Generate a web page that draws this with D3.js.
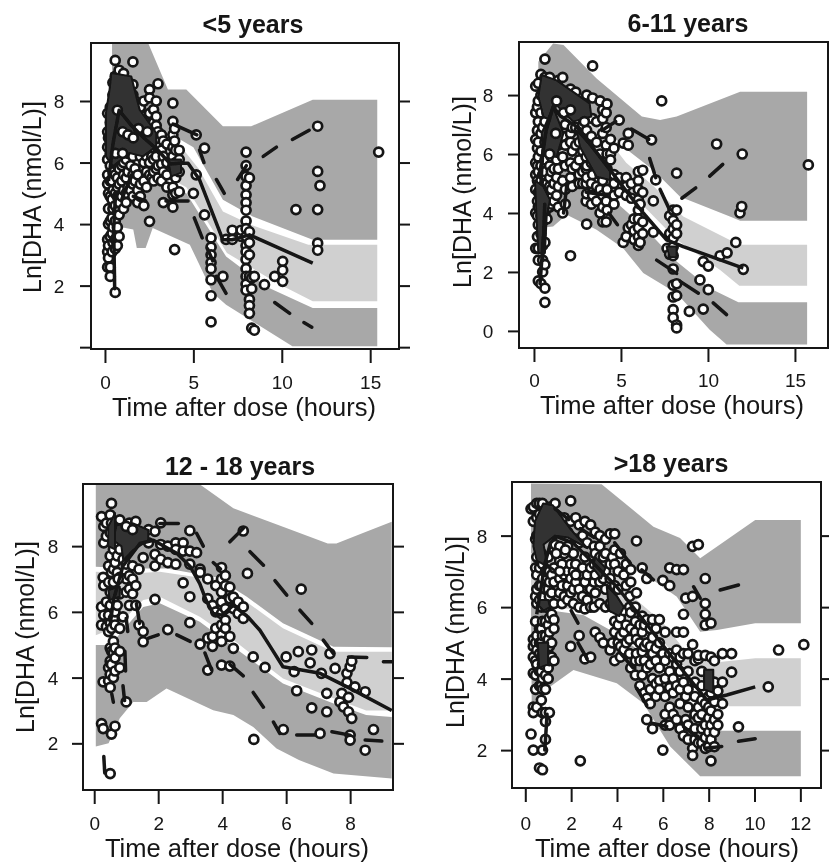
<!DOCTYPE html>
<html>
<head>
<meta charset="utf-8">
<title>Ln[DHA] by age group</title>
<script src="https://cdn.jsdelivr.net/npm/d3@7"></script>
<style>
	html, body { margin: 0; background: #fff; }
	svg { display: block; font-family: "Liberation Sans", Arial, sans-serif; }
</style>
</head>
<body>
<svg width="829" height="863"></svg>
<script>
// ----- <5 years -----
// observed points, one entry per time: [hours, [ln concentrations]]
const obs1 = [
	[0.15, [7.6, 7.0, 6.5, 6.1, 5.6, 5.3, 3.5, 3.1, 2.6]],
	[0.2, [6.8, 5.0, 4.5, 4.0, 3.3, 2.9]],
	[0.3, [7.8, 7.3, 6.8, 6.3, 5.9, 5.4, 4.9, 4.1, 3.6, 2.6, 2.3]],
	[0.4, [7.0, 6.5, 5.4, 4.8, 4.2, 3.7, 3.1]],
	[0.45, [8.6, 8.2, 7.5, 6.9, 6.2, 5.7, 5.1, 4.5, 3.9, 3.4]],
	[0.58, [9.32, 8.8, 8.3, 7.8, 7.2, 6.6, 6.1, 5.6, 5.0, 4.6, 4.1, 3.5, 3.2, 1.78]],
	[0.7, [7.5, 6.7, 5.9, 5.5, 5.2, 4.9, 4.4, 3.9, 3.3]],
	[0.8, [9.0, 8.4, 7.9, 7.4, 6.9, 6.2, 5.8, 5.3, 4.7, 4.3, 3.6]],
	[0.95, [6.5, 5.9, 5.4, 4.9]],
	[1.05, [8.9, 8.5, 7.7, 7.1, 6.6, 6.0, 5.6, 5.1, 4.5]],
	[1.2, [7.5, 6.1, 5.5, 5.0, 4.7]],
	[1.3, [7.2, 6.8, 6.3, 5.7, 5.2]],
	[1.45, [7.4, 6.5, 5.9, 5.1]],
	[1.58, [9.27, 8.53, 8.2, 7.1, 6.7, 6.2, 5.6, 5.3, 4.9]],
	[1.7, [8.0, 7.6, 5.8, 5.4]],
	[1.85, [7.4, 6.9, 6.4, 5.6, 5.1, 4.7]],
	[2.0, [7.8, 7.2, 6.2, 5.3, 4.9]],
	[2.2, [8.0, 7.5, 6.6, 6.0, 5.4, 4.6]],
	[2.35, [7.3, 6.9, 6.2, 5.7, 5.2]],
	[2.52, [8.37, 8.1, 7.6, 7.2, 6.8, 6.4, 6.0, 5.6, 4.09]],
	[2.65, [7.0, 6.6, 6.2, 5.5]],
	[2.75, [7.72, 7.3, 6.9, 6.1, 5.7, 5.4]],
	[2.9, [8.0, 7.5, 7.2, 6.7, 6.2, 5.8]],
	[3.0, [8.56, 7.0, 6.5, 5.9, 5.5]],
	[3.2, [6.9, 6.4, 5.95, 5.4]],
	[3.3, [6.7, 6.2, 5.7, 4.7]],
	[3.5, [6.6, 6.0, 5.6, 5.2]],
	[3.84, [7.93, 7.34, 6.9, 6.5, 6.2, 5.9, 5.2, 4.95, 4.55]],
	[3.94, [7.1, 6.7, 3.17]],
	[4.0, [6.4, 6.0, 5.5, 5.0]],
	[4.2, [6.4, 6.1, 5.7, 5.05]],
	[5.0, [5.0]],
	[5.16, [6.9, 5.6]],
	[5.63, [6.47, 4.3]],
	[6.0, [3.55, 3.25, 3.0, 2.75, 2.55, 2.19, 1.67, 0.82]],
	[6.67, [2.3]],
	[6.85, [3.5]],
	[7.2, [3.8, 3.5]],
	[7.7, [3.6, 3.8]],
	[7.98, [6.34, 5.9, 5.55, 5.25, 4.95, 4.7, 4.45, 4.1, 3.85, 3.6, 3.3, 3.1, 2.85, 2.55, 2.3, 2.05, 1.85]],
	[8.17, [5.5, 3.75, 3.4, 3.0, 2.3, 1.55, 1.35, 1.1]],
	[8.3, [0.62, 2.25, 1.9]],
	[8.45, [0.55, 2.3]],
	[9.02, [2.03]],
	[9.6, [2.3]],
	[10.05, [2.79, 2.5, 2.14]],
	[10.8, [4.47]],
	[12.03, [7.18, 5.71, 4.47, 3.38, 3.15]],
	[12.16, [5.25]],
	[15.48, [6.34]]
];
const top1 = [[0.7, 7.7], [1.0, 7.0], [1.3, 6.9], [1.6, 6.8], [0.6, 6.3], [1.0, 6.3], [1.9, 7.1], [2.4, 7.0]];
const dense1 = [
	[[0.36, 8.91], [1.49, 8.8], [1.96, 7.72], [2.9, 6.96], [2.9, 6.53], [2.15, 6.2], [1.39, 6.31], [0.45, 5.88], [0.05, 6.2], [0.05, 7.6], [0.26, 8.37]],
	[[3.56, 6.1], [4.3, 6.1], [4.3, 5.66], [3.74, 5.55]]
];
const upperBand1 = [[0.4, 9.9], [2.43, 9.9], [3.56, 8.37], [4.6, 8.37], [6.67, 7.18], [8.27, 7.18], [11.75, 8.04], [15.4, 8.04], [15.4, 3.49], [11.75, 3.49], [8.36, 4.25], [6.67, 4.79], [5, 6.5], [3.5, 7], [0.4, 7]];
const midBand1 = [[0.4, 7], [3.6, 7], [4.6, 6.3], [5.3, 5.8], [6.67, 4.41], [8.36, 3.95], [11.5, 3.33], [15.4, 3.33], [15.4, 1.49], [11.75, 1.49], [9.75, 2.08], [6.9, 3.06], [4.6, 5.2], [2, 6], [0.4, 6]];
const lowerBand1 = [[0.4, 6], [2, 5.9], [4.6, 5.0], [6.85, 2.95], [9.1, 1.97], [11.75, 1.27], [15.4, 1.27], [15.4, 0.03], [10.6, 0.03], [6.85, 1.38], [6.1, 1.76], [4.8, 3.33], [2.7, 3.87], [2.3, 3.22], [1.8, 3.22], [1.6, 3.82], [0.65, 3.93], [0.4, 3.0]];
const median1 = [[0.2, 5.4], [0.45, 6.6], [0.8, 7.7], [1.5, 7.2], [2.2, 6.8], [3.0, 6.4], [3.7, 5.95], [4.2, 5.98], [4.7, 5.98], [5.35, 5.44], [6.67, 3.49], [7.2, 3.49], [8.17, 3.65], [11.75, 2.73]];
const dashes1 = [
	[[3.85, 7.25], [5.2, 6.9]], [[5.35, 6.4], [5.6, 6.0]], [[6.3, 5.45], [6.75, 5.0]], [[7.5, 5.45], [8.0, 5.9]],
	[[8.95, 6.2], [9.7, 6.5]], [[10.6, 6.75], [11.55, 7.05]],
	[[0.55, 1.9], [0.5, 3.6]], [[0.45, 3.4], [0.6, 5.0]], [[0.95, 4.8], [1.5, 5.6]], [[1.6, 4.9], [2.3, 4.75]],
	[[3.45, 4.75], [4.7, 4.75]], [[5.05, 4.2], [5.5, 3.55]], [[5.8, 3.2], [6.1, 2.8]], [[6.3, 2.3], [6.85, 1.75]],
	[[9.6, 1.45], [10.45, 1.1]], [[11.25, 0.8], [11.7, 0.65]]
];

// ----- 6-11 years -----
const obs2 = [
	[0.1, [8.3, 7.4, 6.5, 5.7, 5.3, 4.8, 4.0, 2.8]],
	[0.2, [7.6, 6.8, 6.2, 5.6, 5.1, 4.4, 3.9, 3.2]],
	[0.25, [8.4, 7.8, 7.1, 6.4, 5.9, 5.4, 4.7, 4.2, 3.6, 2.8, 2.4, 1.7]],
	[0.4, [8.7, 8.0, 7.4, 6.7, 6.1, 5.6, 5.1, 4.5, 3.9, 3.3, 1.6]],
	[0.5, [6.9, 5.3, 4.9, 4.3, 3.7, 2.9, 2.4, 2.0]],
	[0.63, [9.22, 8.6, 7.1, 6.4, 5.8, 5.4, 4.8, 4.0, 3.0, 2.25, 1.45, 0.97]],
	[0.75, [7.4, 6.1, 5.0, 4.6, 4.3, 3.8]],
	[0.9, [8.6, 6.8, 6.2, 5.6, 5.2, 4.9, 4.5, 4.2]],
	[1.0, [6.5, 5.9, 5.4, 4.8, 4.3]],
	[1.15, [6.7, 6.0, 5.5, 5.0, 4.4]],
	[1.3, [6.5, 5.8, 5.2, 4.6]],
	[1.4, [8.5, 6.3, 5.5, 4.9, 4.2]],
	[1.65, [8.6, 6.6, 5.9, 5.1, 4.0]],
	[1.8, [7.0, 6.3, 5.6, 4.8, 4.3]],
	[2.1, [8.2, 7.7, 7.4, 6.7, 6.4, 5.7, 5.2, 2.55]],
	[2.2, [6.9, 6.1, 5.5, 4.9]],
	[2.4, [8.1, 6.9, 6.3, 5.6]],
	[2.6, [6.8, 6.4, 5.8, 5.3, 5.0]],
	[2.8, [7.0, 6.6, 6.1, 5.4, 5.0]],
	[3.0, [6.2, 5.9, 5.5, 5.0, 4.4]],
	[3.03, [8.0, 6.8, 5.6, 5.2, 4.65, 3.62]],
	[3.3, [6.6, 5.7, 5.0, 4.3]],
	[3.37, [8.99, 7.9, 7.2, 6.0, 5.3, 4.6]],
	[3.6, [7.1, 6.4, 5.7, 4.9, 4.4]],
	[3.8, [7.8, 6.0, 5.3, 4.8, 4.0]],
	[3.95, [7.5, 7.2, 6.7, 5.1, 4.6, 4.2, 3.7]],
	[4.15, [7.4, 6.9, 6.3, 4.4, 3.7]],
	[4.2, [7.7, 6.0, 5.5, 4.8, 4.1]],
	[4.4, [6.5, 6.0, 5.8]],
	[4.6, [5.0, 4.6, 6.2, 5.3, 4.3]],
	[4.9, [7.15, 5.2, 4.7]],
	[5.13, [6.37, 3.0]],
	[5.3, [5.2, 4.9, 4.6, 3.2]],
	[5.42, [6.7, 6.3, 3.5]],
	[5.6, [5.0, 4.5, 3.6]],
	[5.75, [3.8, 3.4, 3.1]],
	[6.0, [5.4, 5.1, 4.8, 4.45, 4.1, 3.8, 3.5, 3.2, 2.9]],
	[6.1, [4.3, 3.0]],
	[6.25, [4.7, 3.7, 3.3, 5.45]],
	[6.76, [6.48]],
	[6.86, [4.41, 3.35]],
	[7.0, [5.12]],
	[7.34, [7.8]],
	[7.65, [2.8]],
	[7.8, [3.9, 3.3, 2.6]],
	[8.0, [4.1, 3.75, 3.45, 3.15, 2.85, 2.55, 2.1, 1.55, 1.15, 0.72, 0.45]],
	[8.2, [5.35, 4.1, 3.6, 3.3, 1.6, 1.2, 0.2, 0.1]],
	[8.93, [0.66]],
	[9.54, [1.73]],
	[9.73, [0.74, 2.35]],
	[10.02, [1.4, 2.2]],
	[10.5, [6.34]],
	[10.7, [2.55]],
	[11.1, [2.65]],
	[11.6, [3.0]],
	[11.84, [4.0]],
	[11.94, [4.22]],
	[11.97, [6.0]],
	[12.03, [2.09]],
	[15.77, [5.63]]
];
const top2 = [[1.3, 7.8], [1.7, 7.4], [2.1, 7.5], [1.25, 6.7], [0.9, 6.0], [2.9, 7.1]];
const dense2 = [
	[[0.44, 8.68], [1.3, 8.5], [3.2, 7.72], [3.3, 7.27], [2.26, 7.1], [1.3, 7.66], [0.92, 7.15], [0.54, 7.27], [0.25, 7.95]],
	[[1.1, 7.6], [1.69, 6.7], [1.3, 5.9], [0.54, 6.0], [0.44, 6.7]],
	[[2.45, 6.8], [4.37, 5.57], [4.37, 5.12], [3.6, 5.23], [2.64, 6.25]],
	[[0.06, 5.1], [0.54, 4.9], [0.92, 4.45], [0.73, 3.88], [0.63, 2.64], [0.25, 2.64], [0.15, 3.77]],
	[[7.62, 2.86], [8.2, 2.86], [8.2, 2.5], [7.8, 2.5]]
];
const upperBand2 = [[0.25, 9.13], [1.1, 9.75], [1.7, 9.7], [3.6, 8.56], [6.2, 7.27], [7.25, 7.15], [8.2, 7.27], [11.85, 8.11], [15.7, 8.11], [15.7, 3.74], [11.85, 3.74], [11.26, 3.88], [8.4, 4.55], [6.86, 5.46], [5.13, 6.25], [3.6, 7.2], [0.25, 7]];
const midBand2 = [[0.25, 7], [3.6, 7.0], [5.3, 5.7], [6.9, 4.9], [8.58, 3.88], [11.8, 2.92], [15.7, 2.92], [15.7, 1.53], [11.8, 1.53], [10.7, 2.07], [8.2, 3.09], [5.2, 4.9], [2.1, 5.9], [0.25, 5.8]];
const lowerBand2 = [[0.25, 5.8], [2.07, 5.46], [4.37, 4.55], [6.28, 3.54], [8.2, 2.35], [10.1, 1.45], [11.75, 0.97], [15.7, 0.97], [15.7, -0.46], [11.07, -0.46], [10.1, 0.04], [8.2, 1.28], [6.28, 1.96], [5.13, 2.8], [3.6, 3.43], [1.88, 3.94], [1.1, 3.54], [0.4, 3.5], [0.25, 4]];
const median2 = [[0.3, 5.2], [0.7, 6.8], [1.1, 7.6], [1.5, 7.3], [2.45, 6.93], [4.37, 5.46], [6.28, 4.0], [7.62, 3.09], [8.58, 2.86], [12.03, 2.13]];
const dashes2 = [
	[[3.9, 6.8], [4.7, 7.1]], [[5.6, 6.85], [6.6, 6.5]], [[6.65, 5.85], [7.0, 5.2]], [[7.25, 4.8], [7.8, 4.1]],
	[[8.5, 4.5], [9.3, 4.85]], [[10.1, 5.25], [10.85, 5.65]],
	[[0.35, 1.6], [0.55, 3.2]], [[0.5, 2.4], [0.62, 4.3]], [[0.4, 5.0], [0.5, 6.0]], [[1.7, 4.0], [1.9, 5.0]],
	[[3.0, 4.7], [4.2, 4.6]], [[4.3, 4.0], [4.8, 3.6]],
	[[7.05, 2.4], [8.2, 1.95]], [[8.4, 1.68], [9.45, 1.28]], [[10.3, 0.95], [11.07, 0.55]]
];

// ----- 12 - 18 years -----
const obs3 = [
	[0.23, [8.9, 6.15, 5.6, 2.6]],
	[0.28, [7.05, 3.87, 2.45]],
	[0.3, [8.6, 8.1, 6.8, 5.9]],
	[0.38, [8.7, 8.3, 6.3, 5.55]],
	[0.45, [7.4, 6.9, 5.9, 5.4, 4.3, 3.9]],
	[0.5, [8.95, 8.4, 7.7, 6.6, 6.2, 5.65, 4.9, 4.5, 4.1, 3.7, 1.08]],
	[0.54, [9.3, 8.7, 7.2, 5.5, 4.8, 4.4, 2.28]],
	[0.6, [7.9, 7.3, 6.4, 5.8, 5.1, 4.75, 4.0]],
	[0.65, [8.6, 8.1, 7.5, 6.9, 6.0, 5.6, 4.9, 4.6, 4.2, 2.52]],
	[0.72, [8.3, 7.7, 7.2, 6.2]],
	[0.8, [8.8, 7.9, 7.05, 6.55, 5.5, 4.8, 4.3]],
	[0.9, [8.2, 7.6, 5.85]],
	[1.0, [8.5, 7.45, 7.0, 6.6, 3.26]],
	[1.1, [8.7, 7.1, 6.7, 6.2]],
	[1.2, [7.4, 7.0, 6.55]],
	[1.3, [8.75, 8.2, 6.8, 6.2]],
	[1.4, [7.3, 5.6]],
	[1.53, [7.65, 5.09, 5.4]],
	[1.7, [8.5, 8.1]],
	[1.9, [8.45, 7.75, 7.4, 6.38]],
	[2.08, [8.71, 8.05, 7.6]],
	[2.3, [8.0, 7.5, 5.46]],
	[2.55, [8.1, 7.9, 7.45]],
	[2.78, [8.1, 7.85, 6.88]],
	[2.99, [8.47, 7.85, 7.45, 6.46, 5.67]],
	[3.2, [7.8]],
	[3.31, [7.3, 7.2, 5.02]],
	[3.55, [7.0, 6.4, 5.2, 4.23]],
	[3.7, [6.2, 5.25, 4.95]],
	[3.8, [6.8, 6.0, 5.5]],
	[3.98, [7.35, 7.0, 6.6, 6.3, 5.95, 5.6, 5.3, 5.1, 4.38]],
	[4.1, [7.1, 6.8, 6.1, 5.75, 5.5]],
	[4.24, [6.75, 6.4, 5.25, 4.35]],
	[4.35, [6.45, 6.1, 4.89]],
	[4.5, [6.3, 5.95]],
	[4.66, [8.46, 6.15, 5.8]],
	[4.79, [7.17]],
	[4.97, [4.63]],
	[4.99, [2.12]],
	[5.34, [4.31]],
	[5.91, [2.42]],
	[6.0, [4.63]],
	[6.25, [4.18]],
	[6.33, [3.6]],
	[6.38, [4.79]],
	[6.47, [6.69]],
	[6.75, [4.45]],
	[6.8, [4.84, 3.08]],
	[7.06, [2.3]],
	[7.1, [4.13]],
	[7.27, [3.52, 2.96]],
	[7.37, [4.73]],
	[7.53, [4.28]],
	[7.68, [3.26]],
	[7.74, [3.52]],
	[7.79, [3.11]],
	[7.9, [4.13, 3.85]],
	[7.95, [2.96, 3.4]],
	[8.0, [4.33, 2.25, 2.1]],
	[8.05, [2.76, 4.5]],
	[8.15, [3.72]],
	[8.47, [3.57, 1.79]],
	[8.73, [2.42]]
];
const top3 = [[1.0, 8.6], [1.2, 8.5], [0.6, 6.9], [0.75, 7.0]];
const dense3 = [
	[[0.7, 8.64], [1.22, 8.69], [1.69, 8.49], [1.69, 8.18], [1.22, 7.88], [0.91, 7.57], [0.85, 8.0], [0.59, 8.18]],
	[[0.44, 6.66], [0.8, 6.76], [0.8, 6.46], [0.49, 6.36]],
	[[0.44, 8.6], [0.65, 9.0], [0.65, 7.9], [0.44, 8.0]]
];
const upperBand3 = [[0.05, 9.95], [3.2, 9.95], [4.35, 9.15], [5.9, 8.59], [7.3, 8.08], [7.57, 8.08], [8.5, 8.44], [9.3, 8.74], [9.3, 4.92], [7.48, 4.94], [5.9, 5.65], [4.77, 6.46], [3.8, 7.05], [2.26, 7.32], [1.22, 7.32], [0.05, 7.37]];
const midBand3 = [[0.05, 7.22], [1.22, 7.17], [2.05, 7.22], [3.8, 6.97], [4.77, 6.3], [5.9, 5.5], [7.48, 4.79], [9.3, 4.79], [9.3, 3.0], [8.5, 3.0], [7.48, 3.37], [5.9, 3.97], [4.35, 5.14], [3.3, 5.85], [2.05, 6.46], [1.53, 6.36], [0.7, 5.55], [0.05, 5.29]];
const lowerBand3 = [[0.05, 4.99], [0.5, 4.99], [1.53, 6.15], [2.05, 6.26], [3.3, 5.7], [4.35, 4.94], [5.9, 3.82], [7.48, 3.21], [8.5, 2.86], [9.3, 2.8], [9.3, 0.93], [7.48, 1.08], [6.4, 1.49], [5.7, 1.84], [4.97, 2.5], [4.35, 2.86], [3.72, 3.01], [2.26, 3.67], [1.64, 3.26], [1.22, 3.26], [0.8, 2.76], [0.45, 2.0], [0.05, 1.9]];
const median3 = [[0.5, 5.6], [0.6, 6.35], [0.9, 7.4], [1.43, 8.08], [1.85, 8.18], [2.58, 7.78], [3.0, 7.38], [3.3, 6.86], [3.5, 6.35], [3.72, 5.95], [4.0, 5.9], [4.35, 6.2], [4.8, 5.85], [5.18, 5.44], [5.5, 4.95], [5.9, 4.33], [7.06, 4.13], [8.0, 3.67], [9.3, 3.0]];
const dashes3 = [
	[[2.05, 8.69], [2.63, 8.69]], [[3.2, 8.39], [3.41, 8.0]], [[4.24, 8.13], [4.66, 8.54]], [[3.72, 7.5], [3.95, 7.3]],
	[[4.87, 7.83], [5.29, 7.42]], [[5.65, 6.95], [6.02, 6.51]], [[6.43, 6.05], [6.8, 5.65]], [[7.16, 5.14], [7.48, 4.73]],
	[[7.95, 4.63], [8.52, 4.61]], [[9.04, 4.48], [9.3, 4.48]],
	[[0.3, 1.6], [0.33, 1.1]], [[0.55, 3.5], [0.6, 3.25]], [[0.9, 3.75], [0.95, 3.3]], [[0.96, 4.8], [0.98, 4.2]],
	[[1.0, 5.8], [1.05, 5.4]], [[1.32, 6.25], [1.42, 5.65]], [[1.7, 5.2], [2.0, 5.3]], [[2.58, 5.3], [3.0, 5.1]],
	[[3.46, 4.75], [3.66, 4.25]], [[4.24, 4.4], [4.66, 4.05]], [[4.97, 3.55], [5.29, 3.1]], [[5.6, 2.65], [5.8, 2.3]],
	[[6.33, 2.25], [6.9, 2.25]], [[7.43, 2.35], [8.0, 2.25]], [[8.47, 2.1], [8.99, 2.07]]
];

// ----- >18 years -----
const obs4 = [
	[0.25, [8.75, 2.45]],
	[0.35, [8.8, 8.4, 5.1, 4.9, 4.6, 4.15, 3.2, 3.05, 2.0]],
	[0.45, [7.9, 7.1, 6.3, 5.6, 5.0, 4.5, 4.1, 3.7]],
	[0.5, [8.9, 8.5, 8.0, 7.4, 6.9, 6.5, 6.1, 5.2, 4.8, 4.4, 3.2]],
	[0.62, [8.9, 8.6, 7.1, 6.6, 6.2, 5.4, 5.0, 4.7, 4.2, 3.8, 1.5]],
	[0.7, [8.2, 7.5, 6.6, 6.0, 5.4, 5.0, 4.6, 4.2, 3.8, 3.4]],
	[0.75, [8.9, 7.2, 6.8, 6.3, 5.6, 5.2, 4.8, 4.4, 4.0, 3.7, 3.05, 2.0, 1.45]],
	[0.88, [7.0, 6.5, 6.0, 5.6, 5.2, 4.9, 4.5, 4.1, 3.7, 3.05, 2.8, 2.3]],
	[1.0, [7.4, 6.5, 6.1, 5.5, 5.1, 4.7, 4.3, 4.0]],
	[1.05, [8.8, 7.0, 6.7, 6.3, 5.7, 5.3, 4.9, 4.5, 3.05]],
	[1.15, [6.9, 6.4, 5.8, 5.0, 4.6]],
	[1.25, [7.6, 7.1, 6.7, 6.1, 5.65, 5.4, 4.5]],
	[1.3, [8.9, 8.6, 7.75]],
	[1.5, [7.7, 7.3, 6.8, 6.4]],
	[1.6, [7.2, 6.6, 6.1]],
	[1.7, [8.5, 7.5, 6.9, 6.3]],
	[1.85, [8.1, 7.7, 7.0, 6.6, 6.2]],
	[1.98, [8.97, 8.4, 7.2, 6.8, 6.4, 4.9]],
	[2.1, [7.5, 7.0, 6.5, 6.1]],
	[2.2, [8.5, 7.9, 7.2, 6.7]],
	[2.35, [8.3, 7.8, 6.9, 6.5, 6.0, 5.2]],
	[2.4, [1.7]],
	[2.5, [8.0, 7.1, 6.3]],
	[2.6, [8.4, 7.4, 6.7, 5.95, 4.55]],
	[2.7, [7.8, 6.9, 6.2]],
	[2.85, [8.3, 7.1, 6.5, 6.0, 4.6]],
	[3.0, [7.7, 7.2, 6.7, 6.0]],
	[3.05, [8.1, 7.5, 6.9, 6.4, 5.3]],
	[3.25, [8.0, 7.7, 7.4, 6.7, 6.1, 5.15]],
	[3.4, [7.4, 6.8, 5.0]],
	[3.5, [7.9, 7.5, 7.0, 6.5, 6.0]],
	[3.7, [8.05, 7.2, 6.8, 6.1, 4.8]],
	[3.8, [7.4, 6.4, 6.0, 5.0]],
	[3.9, [8.05, 7.6, 7.2, 6.6, 5.6, 5.3, 4.5]],
	[4.05, [7.0, 6.5, 5.5, 5.0]],
	[4.15, [7.5, 5.7, 5.2, 4.9, 4.6]],
	[4.3, [6.9, 5.9, 5.3, 4.8]],
	[4.4, [7.2, 6.6, 5.5, 5.0]],
	[4.55, [6.3, 6.0, 5.1, 4.7]],
	[4.6, [7.05, 6.7, 5.85, 5.4, 4.3]],
	[4.8, [6.0, 5.6, 5.3, 4.5, 4.1]],
	[4.85, [7.85, 6.4, 5.1, 4.7]],
	[5.0, [5.5, 5.0, 4.5, 3.8]],
	[5.1, [7.1, 5.75, 5.3, 4.75, 4.1]],
	[5.2, [5.5, 4.9, 4.5, 3.6]],
	[5.3, [6.8, 5.65, 5.0, 4.3, 3.45, 2.85]],
	[5.45, [5.4, 4.9, 4.4, 3.7, 3.3]],
	[5.55, [5.65, 5.15, 4.7, 4.0, 2.6]],
	[5.7, [5.4, 4.85, 4.5, 3.85, 3.5]],
	[5.85, [5.65, 5.0, 4.3, 3.7, 3.95]],
	[6.0, [6.75, 4.7, 2.0]],
	[6.1, [5.3, 4.5, 4.0, 3.5, 3.0, 2.7]],
	[6.3, [7.1, 6.6, 4.7, 4.2, 3.75, 3.2, 2.7]],
	[6.45, [4.6, 4.0, 3.6, 3.0]],
	[6.6, [7.05, 5.3, 4.8, 4.4, 3.8, 2.85]],
	[6.75, [4.6, 4.2, 3.7, 3.3, 2.6]],
	[6.9, [7.05, 5.8, 5.3, 4.7, 3.9, 2.4]],
	[7.0, [6.25, 3.5, 2.85]],
	[7.1, [4.7, 4.2, 3.7, 3.2, 2.7, 2.3]],
	[7.3, [7.7, 6.3, 4.95, 2.05, 1.85]],
	[7.4, [4.5, 3.9, 3.5, 3.0, 2.6, 2.3]],
	[7.55, [7.75, 4.55, 4.65, 3.2, 2.9, 2.2]],
	[7.7, [4.2, 3.8, 3.4, 3.0, 2.6, 2.2]],
	[7.85, [6.8, 6.1, 5.8, 5.5, 4.65, 3.3, 2.7, 2.35, 2.05]],
	[8.0, [4.0, 3.5, 3.2, 2.9, 2.5, 2.1]],
	[8.1, [5.55, 4.6, 3.6, 3.1, 2.7, 2.3, 1.7]],
	[8.25, [4.5, 3.9, 3.35, 2.85, 2.5, 2.1]],
	[8.4, [3.65, 3.0, 2.7]],
	[8.6, [4.7, 3.9, 3.3]],
	[9.0, [4.7, 4.18]],
	[9.3, [2.65]],
	[10.6, [3.77]],
	[11.05, [4.8]],
	[12.15, [4.95]]
];
const top4 = [[1.35, 7.5], [1.5, 7.0], [2.2, 6.9], [1.75, 7.6]];
const dense4 = [
	[[0.78, 8.9], [1.2, 8.85], [1.95, 8.2], [2.7, 7.65], [1.85, 7.95], [1.3, 8.0], [0.8, 7.75], [0.95, 7.2], [1.35, 7.0], [0.5, 7.3], [0.35, 7.7], [0.42, 8.4]],
	[[0.58, 6.2], [1.0, 6.2], [1.08, 6.0], [0.8, 5.9], [0.58, 6.05]],
	[[3.05, 7.4], [3.5, 7.1], [3.3, 6.8], [2.95, 7.1]],
	[[3.55, 6.6], [4.0, 6.3], [4.3, 6.0], [4.1, 5.75], [3.65, 5.9]],
	[[7.8, 4.25], [8.2, 4.25], [8.2, 3.6], [7.8, 3.7]],
	[[0.55, 5.0], [1.0, 5.0], [1.0, 4.4], [0.6, 4.3]]
];
const upperBand4 = [[0.25, 9.46], [3.33, 9.44], [5.59, 8.25], [6.75, 7.93], [7.63, 7.37], [10.03, 8.44], [12.02, 8.44], [12.02, 5.55], [10.03, 5.55], [8.36, 5.36], [7.63, 5.31], [6.61, 6.29], [5.15, 6.95], [3.7, 7.5], [0.25, 7.5]];
const midBand4 = [[0.25, 7.5], [3.7, 7.4], [4.86, 6.2], [6.03, 5.55], [7.2, 4.6], [8.28, 4.45], [10.03, 4.57], [12.02, 4.57], [12.02, 3.23], [8.9, 3.23], [7.9, 3.6], [5.8, 5.2], [3.7, 5.9], [0.25, 6]];
const lowerBand4 = [[0.25, 6], [1.51, 5.87], [2.53, 5.78], [3.7, 5.36], [5.15, 4.7], [6.61, 3.68], [7.63, 3.03], [8.57, 2.54], [12.02, 2.54], [12.02, 1.27], [7.63, 1.27], [6.32, 2.1], [5.15, 3.31], [3.99, 3.87], [2.1, 4.24], [1.08, 3.77], [0.28, 3.3]];
const median4 = [[0.5, 5.8], [0.85, 7.2], [1.1, 7.8], [1.37, 7.97], [2.1, 7.79], [3.99, 6.57], [5.15, 5.64], [6.61, 4.43], [7.92, 3.4], [8.79, 3.54], [10.03, 3.77]];
const dashes4 = [
	[[1.3, 8.75], [1.9, 8.45]], [[2.4, 8.2], [3.0, 7.95]],
	[[3.9, 7.8], [4.6, 7.2]], [[5.08, 7.04], [5.59, 6.76]], [[7.34, 6.57], [7.63, 6.25]], [[8.5, 6.48], [9.3, 6.62]],
	[[2.0, 5.9], [2.3, 5.55]], [[2.3, 5.0], [2.7, 4.55]], [[0.85, 2.0], [0.95, 3.0]], [[4.1, 4.75], [4.7, 4.3]],
	[[4.86, 3.73], [5.3, 3.26]], [[5.52, 2.75], [6.17, 2.66]], [[6.9, 2.66], [7.48, 2.37]], [[7.85, 2.05], [8.57, 2.1]],
	[[9.3, 2.25], [10.03, 2.32]]
];

const xTicks1 = [0, 5, 10, 15];
const xTicks3 = [0, 2, 4, 6, 8];
const xTicks4 = [0, 2, 4, 6, 8, 10, 12];
const yTicks1 = [0, 2, 4, 6, 8];
const yTicks3 = [2, 4, 6, 8];

const titles = ["<5 years", "6-11 years", "12 - 18 years", ">18 years"];
const xLabel = "Time after dose (hours)";
const yLabel = "Ln[DHA (nmol/L)]";

// page layout of each panel, all in pixels
const panels = [
	{ title: titles[0], box: [91, 43, 399, 349], xDomain: [-0.79, 16.63], yDomain: [-0.06, 9.885], xTicks: xTicks1, yTicks: yTicks1, showZero: false, obs: obs1, top: top1, dense: dense1, upper: upperBand1, mid: midBand1, lower: lowerBand1, median: median1, dashes: dashes1, titlePos: [253, 33], xLabelPos: [244, 416], yLabelPos: [32, 197], tickX: 59, tickY: 389 },
	{ title: titles[1], box: [519, 42, 828, 348], xDomain: [-0.86, 16.9], yDomain: [-0.58, 9.8], xTicks: xTicks1, yTicks: yTicks1, showZero: true, obs: obs2, top: top2, dense: dense2, upper: upperBand2, mid: midBand2, lower: lowerBand2, median: median2, dashes: dashes2, titlePos: [688, 32], xLabelPos: [672, 414], yLabelPos: [462, 192], tickX: 488, tickY: 387 },
	{ title: titles[2], box: [83, 484, 393, 790], xDomain: [-0.35, 9.34], yDomain: [0.58, 9.89], xTicks: xTicks3, yTicks: yTicks3, showZero: true, obs: obs3, top: top3, dense: dense3, upper: upperBand3, mid: midBand3, lower: lowerBand3, median: median3, dashes: dashes3, titlePos: [240, 475], xLabelPos: [237, 857], yLabelPos: [25, 637], tickX: 53, tickY: 830 },
	{ title: titles[3], box: [512, 482, 821, 788], xDomain: [-0.58, 12.9], yDomain: [0.94, 9.5], xTicks: xTicks4, yTicks: yTicks3, showZero: true, obs: obs4, top: top4, dense: dense4, upper: upperBand4, mid: midBand4, lower: lowerBand4, median: median4, dashes: dashes4, titlePos: [671, 472], xLabelPos: [667, 857], yLabelPos: [455, 632], tickX: 482, tickY: 830 }
];

const ink = "#141414";
const svg = d3.select("svg");

// the reference is a soft, resized scan
svg.append("defs").append("filter").attr("id", "soft")
	.append("feGaussianBlur").attr("stdDeviation", 0.5);

/**
 * drawPanel()
 * @description draws one age group: bands, points, percentile lines, axes and labels
 * @param {Object} p the panel layout and its data
 * @param {Number} i the index of the panel
 */
function drawPanel(p, i) {
	const [x0, y0, x1, y1] = p.box;
	const x = d3.scaleLinear().domain(p.xDomain).range([x0, x1]);
	const y = d3.scaleLinear().domain(p.yDomain).range([y1, y0]);
	const line = d3.line().x(d => x(d[0])).y(d => y(d[1]));
	const clipId = "clip" + i;

	svg.select("defs").append("clipPath").attr("id", clipId)
		.append("rect").attr("x", x0).attr("y", y0).attr("width", x1 - x0).attr("height", y1 - y0);

	const root = svg.append("g").attr("filter", "url(#soft)");
	const plot = root.append("g").attr("clip-path", "url(#" + clipId + ")");

	// prediction bands
	plot.append("path").attr("d", line(p.upper) + "Z").attr("fill", "#a8a8a8");
	plot.append("path").attr("d", line(p.mid) + "Z").attr("fill", "#d0d0d0");
	plot.append("path").attr("d", line(p.lower) + "Z").attr("fill", "#a8a8a8");

	// observations
	const circles = p.obs.flatMap(([t, vals]) => vals.map(v => [t, v]));
	const dot = sel => sel
		.attr("cx", d => x(d[0]))
		.attr("cy", d => y(d[1]))
		.attr("r", 4.5)
		.attr("fill", "#fff")
		.attr("stroke", ink)
		.attr("stroke-width", 2.7);

	plot.append("g").selectAll("circle").data(circles).join("circle").call(dot);

	// overplotted areas read as solid dark blobs
	plot.append("g").selectAll("path").data(p.dense).join("path")
		.attr("d", d => line(d) + "Z")
		.attr("fill", "#333")
		.attr("stroke", ink)
		.attr("stroke-width", 2)
		.attr("stroke-linejoin", "round");

	plot.append("g").selectAll("circle").data(p.top).join("circle").call(dot);

	// observed percentiles
	plot.append("g").selectAll("path").data(p.dashes).join("path")
		.attr("d", line)
		.attr("fill", "none")
		.attr("stroke", ink)
		.attr("stroke-width", 3.5)
		.attr("stroke-linecap", "round");

	plot.append("path")
		.attr("d", line(p.median))
		.attr("fill", "none")
		.attr("stroke", ink)
		.attr("stroke-width", 3.5)
		.attr("stroke-linejoin", "round");

	// frame
	root.append("rect")
		.attr("x", x0).attr("y", y0).attr("width", x1 - x0).attr("height", y1 - y0)
		.attr("fill", "none").attr("stroke", ink).attr("stroke-width", 2);

	// axes
	const styleAxis = g => {
		g.select(".domain").remove();
		g.selectAll("line").attr("stroke", ink).attr("stroke-width", 2);
	};
	const xAxis = root.append("g").attr("transform", "translate(0," + y1 + ")")
		.call(d3.axisBottom(x).tickValues(p.xTicks).tickSize(14).tickFormat(d3.format("d")))
		.call(styleAxis);
	// the first panel has a tick at 0 on the frame but leaves it unlabelled
	const yFormat = d => (d === 0 && !p.showZero) ? "" : d3.format("d")(d);
	const yAxis = root.append("g").attr("transform", "translate(" + x0 + ",0)")
		.call(d3.axisLeft(y).tickValues(p.yTicks).tickSize(11).tickFormat(yFormat))
		.call(styleAxis);
	root.append("g").attr("transform", "translate(" + x1 + ",0)")
		.call(d3.axisRight(y).tickValues(p.yTicks).tickSize(11).tickFormat(""))
		.call(styleAxis);

	xAxis.selectAll("text").attr("y", null).attr("dy", null)
		.attr("transform", "translate(0," + (p.tickY - y1) + ")");
	yAxis.selectAll("text").attr("x", null).attr("dy", "0.35em")
		.attr("text-anchor", "middle")
		.attr("transform", "translate(" + (p.tickX - x0) + ",0)");
	[xAxis, yAxis].forEach(a => a.selectAll("text")
		.attr("font-size", 19)
		.attr("font-family", "\"Liberation Sans\", Arial, sans-serif")
		.attr("fill", ink));

	// labels
	root.append("text").attr("transform", "translate(" + p.titlePos + ")")
		.attr("text-anchor", "middle").attr("font-size", 25).attr("font-weight", "bold").attr("fill", ink)
		.text(p.title);
	root.append("text").attr("transform", "translate(" + p.xLabelPos + ")")
		.attr("text-anchor", "middle").attr("font-size", 25.5).attr("fill", ink)
		.text(xLabel);
	root.append("text").attr("transform", "translate(" + p.yLabelPos + ") rotate(-90)")
		.attr("text-anchor", "middle").attr("dy", "0.35em").attr("font-size", 25).attr("fill", ink)
		.text(yLabel);
}

panels.forEach(drawPanel);
</script>
</body>
</html>
